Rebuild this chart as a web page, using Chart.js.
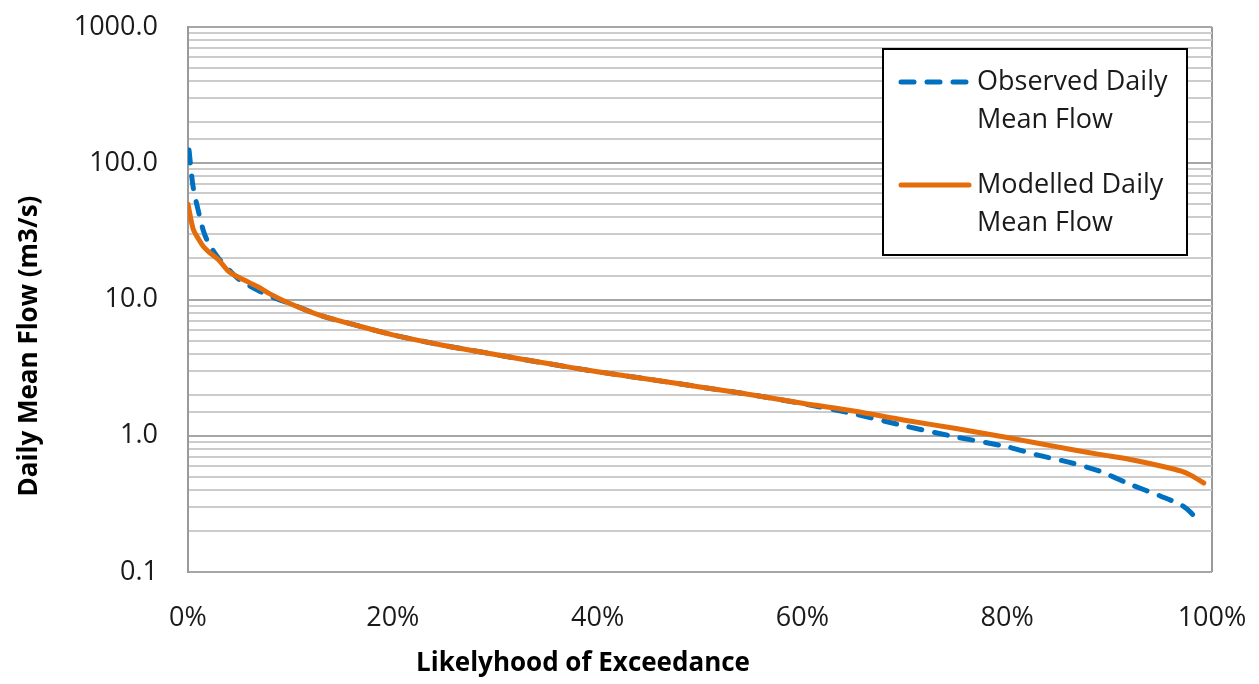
<!DOCTYPE html>
<html>
<head>
<meta charset="utf-8">
<script src="https://cdn.jsdelivr.net/npm/chart.js@4.4.1/dist/chart.umd.min.js"></script>
<style>
  html, body { margin: 0; padding: 0; background: #fff; }
  #wrap { width: 1259px; height: 684px; }
</style>
</head>
<body>
<div id="wrap"><canvas id="flowChart" width="1259" height="684"></canvas></div>
<script>
// Flow duration curves
const pctObserved = [0.1, 0.5, 1, 1.5, 2, 3, 4, 5, 6, 7, 8, 10, 13, 16, 20, 25, 30, 35, 40, 45, 50, 55, 60, 65, 70, 75, 80, 83, 86, 89, 92, 95, 97, 98, 98.8];
const flowObserved = [125, 67, 45, 32, 26, 20, 16.5, 14, 12.6, 11.5, 10.6, 9.3, 7.6, 6.6, 5.5, 4.6, 3.95, 3.4, 2.95, 2.6, 2.28, 2.0, 1.72, 1.45, 1.18, 0.98, 0.83, 0.72, 0.64, 0.55, 0.44, 0.36, 0.31, 0.27, 0.22];

const pctModelled = [0, 0.5, 1, 1.5, 2, 3, 4, 5, 6, 7, 8, 10, 13, 16, 20, 25, 30, 35, 40, 45, 50, 55, 60, 65, 70, 75, 80, 83, 86, 89, 92, 95, 97, 98, 99.2];
const flowModelled = [50, 33, 28, 24.5, 22.5, 19.5, 16, 14.5, 13.3, 12.2, 11, 9.3, 7.6, 6.6, 5.5, 4.6, 3.95, 3.4, 2.95, 2.6, 2.28, 2.0, 1.73, 1.52, 1.3, 1.13, 0.97, 0.88, 0.8, 0.73, 0.67, 0.6, 0.55, 0.51, 0.45];

const seriesNames = [['Observed Daily', 'Mean Flow'], ['Modelled Daily', 'Mean Flow']];
const xTicks = [0, 20, 40, 60, 80, 100];
const xTitle = 'Likelyhood of Exceedance';
const yTitle = 'Daily Mean Flow (m3/s)';

const FONT = '"Open Sans", "Noto Sans", sans-serif';
const BLUE = '#0070C0';
const ORANGE = '#E46C0A';

function toPoints(xs, ys) {
  return xs.map((x, i) => ({ x: x, y: ys[i] }));
}

function isDecade(v) {
  const l = Math.log10(v);
  return Math.abs(l - Math.round(l)) < 1e-6;
}

// axis titles sit off-centre like the original, so draw them here
const axisTitles = {
  id: 'axisTitles',
  afterDraw(chart) {
    const ctx = chart.ctx;
    const area = chart.chartArea;
    ctx.save();
    ctx.fillStyle = '#000';
    ctx.font = 'bold 26px ' + FONT;
    ctx.textAlign = 'center';
    ctx.textBaseline = 'middle';
    ctx.fillText(xTitle, area.left + 395, 664);
    ctx.translate(30, area.top + 319);
    ctx.rotate(-Math.PI / 2);
    ctx.fillText(yTitle, 0, 0);
    ctx.restore();
  }
};

// legend drawn in a box, two lines per entry
const boxLegend = {
  id: 'boxLegend',
  afterDraw(chart) {
    const ctx = chart.ctx;
    const area = chart.chartArea;
    const w = 304, h = 206;
    const left = area.right - 25 - w;
    const top = area.top + 22;
    ctx.save();
    ctx.fillStyle = '#fff';
    ctx.fillRect(left, top, w, h);
    ctx.strokeStyle = '#000';
    ctx.lineWidth = 2;
    ctx.strokeRect(left, top, w, h);

    ctx.font = '27px ' + FONT;
    ctx.textBaseline = 'middle';
    ctx.fillStyle = '#1a1a1a';
    chart.data.datasets.forEach((ds, i) => {
      const y = top + 33 + i * 103;
      ctx.beginPath();
      ctx.strokeStyle = ds.borderColor;
      ctx.lineWidth = ds.borderWidth;
      ctx.lineCap = 'round';
      ctx.setLineDash(ds.borderDash || []);
      ctx.moveTo(left + 18, y);
      ctx.lineTo(left + 86, y);
      ctx.stroke();
      ctx.setLineDash([]);
      seriesNames[i].forEach((line, j) => {
        ctx.fillText(line, left + 94, y + j * 38);
      });
    });
    ctx.restore();
  }
};

function initChart() {
  const ctx = document.getElementById('flowChart').getContext('2d');
  new Chart(ctx, {
    type: 'line',
    data: {
      datasets: [{
        label: 'Observed Daily Mean Flow',
        data: toPoints(pctObserved, flowObserved),
        borderColor: BLUE,
        borderWidth: 5,
        borderDash: [13, 13],
        borderCapStyle: 'round',
        pointRadius: 0,
        tension: 0.3,
        order: 1
      }, {
        label: 'Modelled Daily Mean Flow',
        data: toPoints(pctModelled, flowModelled),
        borderColor: ORANGE,
        borderWidth: 5,
        borderCapStyle: 'round',
        pointRadius: 0,
        tension: 0.3,
        order: 0
      }]
    },
    options: {
      responsive: false,
      animation: false,
      layout: { padding: { top: 27, right: 47, bottom: 0, left: 0 } },
      plugins: {
        legend: { display: false },
        tooltip: { enabled: false }
      },
      scales: {
        x: {
          type: 'linear',
          min: 0,
          max: 100,
          afterBuildTicks: scale => { scale.ticks = xTicks.map(v => ({ value: v })); },
          afterFit: scale => {
            scale.height = 112;
            scale.paddingLeft = 0;
            scale.paddingRight = 0;
          },
          grid: {
            drawTicks: false,
            lineWidth: 2,
            color: c => (c.tick && (c.tick.value === 0 || c.tick.value === 100)) ? '#9a9a9a' : 'transparent'
          },
          border: { display: false },
          ticks: {
            padding: 30,
            color: '#1a1a1a',
            font: { family: FONT, size: 27 },
            callback: v => v + '%'
          }
        },
        y: {
          type: 'logarithmic',
          min: 0.1,
          max: 1000,
          afterFit: scale => {
            scale.width = 188;
            scale.paddingTop = 0;
            scale.paddingBottom = 0;
          },
          grid: {
            drawTicks: false,
            lineWidth: 2,
            color: c => (c.tick && isDecade(c.tick.value)) ? '#a6a6a6' : '#cccccc'
          },
          border: { display: true, color: '#9a9a9a', width: 2 },
          ticks: {
            autoSkip: false,
            padding: 30,
            color: '#1a1a1a',
            font: { family: FONT, size: 27 },
            callback: v => isDecade(v) ? Number(v).toFixed(1) : ''
          }
        }
      }
    },
    plugins: [boxLegend, axisTitles]
  });
}

document.addEventListener('DOMContentLoaded', initChart);
</script>
</body>
</html>
